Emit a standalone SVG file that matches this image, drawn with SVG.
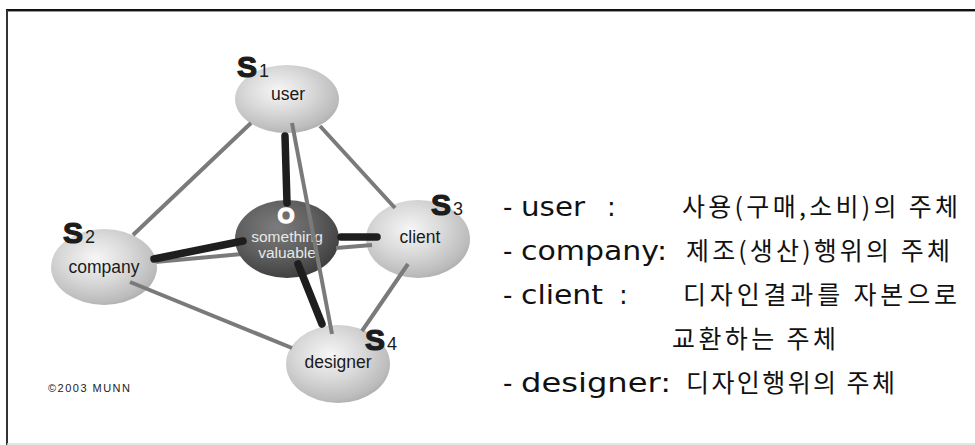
<svg xmlns="http://www.w3.org/2000/svg" width="975" height="445" viewBox="0 0 975 445">
  <style>
    .lbl { font-family: "Liberation Sans", Arial, sans-serif; font-size: 17.5px; fill: #1a1a1a; text-anchor: middle; }
    .sid { font-family: "Liberation Sans", Arial, sans-serif; font-weight: bold; font-size: 30px; fill: #1c1c1c; stroke: #1c1c1c; stroke-width: 1.2; }
    .sub { font-family: "Liberation Sans", Arial, sans-serif; font-size: 18px; fill: #1c1c1c; }
    .core { font-family: "Liberation Sans", Arial, sans-serif; font-size: 15.5px; fill: #e8e8e8; text-anchor: middle; }
    .thin { stroke: #7a7a7a; stroke-width: 4; fill: none; }
    .thick { stroke: #1e1e1e; stroke-width: 7.5; stroke-linecap: round; fill: none; }
    .lat { font-family: "DejaVu Sans", sans-serif; font-size: 26px; fill: #111; }
    .kor { font-family: "Noto Sans CJK KR", sans-serif; font-size: 25px; fill: #111; }
  </style>
  <defs>
    <radialGradient id="ball" cx="0.42" cy="0.38" r="0.68">
      <stop offset="0" stop-color="#f6f6f6"/>
      <stop offset="0.45" stop-color="#dadada"/>
      <stop offset="0.85" stop-color="#bcbcbc"/>
      <stop offset="1" stop-color="#a9a9a9"/>
    </radialGradient>
    <radialGradient id="core" cx="0.4" cy="0.35" r="0.7">
      <stop offset="0" stop-color="#7c7c7c"/>
      <stop offset="0.55" stop-color="#5e5e5e"/>
      <stop offset="1" stop-color="#3c3c3c"/>
    </radialGradient>
  </defs>

  <rect width="975" height="445" fill="#fff"/>
  <!-- slide frame -->
  <line x1="6" y1="10" x2="975" y2="10" stroke="#111" stroke-width="2"/>
  <line x1="6" y1="11.5" x2="975" y2="11.5" stroke="#999" stroke-width="1"/>
  <line x1="7" y1="10" x2="7" y2="445" stroke="#333" stroke-width="2"/>
  <line x1="7" y1="444" x2="975" y2="444" stroke="#ddd" stroke-width="1.5"/>

  <!-- company–client link passes behind the core sphere -->
  <g id="link-back">
    <line class="thin" x1="155" y1="262" x2="242" y2="254"/>
  </g>

  <g id="node-user">
    <ellipse cx="287" cy="99" rx="52" ry="34" fill="url(#ball)"/>
    <text class="sid" x="237" y="77">S</text>
    <text class="sub" x="259" y="77">1</text>
    <text class="lbl" x="288" y="100">user</text>
  </g>

  <g id="node-company">
    <ellipse cx="104" cy="267" rx="53" ry="38" fill="url(#ball)"/>
    <text class="sid" x="63" y="243">S</text>
    <text class="sub" x="85" y="243">2</text>
    <text class="lbl" x="104" y="273">company</text>
  </g>

  <g id="node-client">
    <ellipse cx="418" cy="239" rx="52" ry="39" fill="url(#ball)"/>
    <text class="sid" x="431" y="215">S</text>
    <text class="sub" x="453" y="215">3</text>
    <text class="lbl" x="420" y="243">client</text>
  </g>

  <g id="node-designer">
    <ellipse cx="338" cy="364" rx="52" ry="39" fill="url(#ball)"/>
    <text class="sid" x="365" y="350">S</text>
    <text class="sub" x="387" y="350">4</text>
    <text class="lbl" x="338" y="368">designer</text>
  </g>

  <g id="node-object">
    <ellipse cx="287" cy="239" rx="52" ry="39" fill="url(#core)"/>
    <text x="286" y="223" font-family="Liberation Sans, Arial, sans-serif" font-weight="bold" font-size="22" fill="#fff" stroke="#fff" stroke-width="1.3" text-anchor="middle">O</text>
    <text class="core" x="287" y="242">something</text>
    <text class="core" x="287" y="258">valuable</text>
  </g>

  <g id="connectors">
    <line class="thin" x1="336" y1="248" x2="372" y2="245"/>
    <line class="thin" x1="251" y1="123" x2="133" y2="235"/>
    <line class="thin" x1="320" y1="126" x2="395" y2="208"/>
    <line class="thin" x1="292" y1="123" x2="332" y2="334" stroke="#888"/>
    <line class="thin" x1="130" y1="282" x2="292" y2="348"/>
    <line class="thin" x1="408" y1="264" x2="362" y2="331"/>
    <line class="thick" x1="285" y1="136" x2="287" y2="203"/>
    <line class="thick" x1="154" y1="259" x2="243" y2="241"/>
    <line class="thick" x1="341" y1="237" x2="377" y2="237"/>
    <line class="thick" x1="298" y1="264" x2="322" y2="324"/>
  </g>

  <text id="credit" x="48" y="392" font-family="Liberation Sans, Arial, sans-serif" font-size="11" fill="#222" textLength="82">©2003 MUNN</text>

  <!-- role descriptions -->
  <g id="legend">
    <text class="lat" y="216"><tspan x="503">-</tspan><tspan x="521" textLength="64" lengthAdjust="spacingAndGlyphs">user</tspan><tspan x="607">:</tspan></text>
    <text class="kor" x="682" y="216" textLength="276">사용(구매,소비)의 주체</text>

    <text class="lat" y="260"><tspan x="503">-</tspan><tspan x="521" textLength="146" lengthAdjust="spacingAndGlyphs">company:</tspan></text>
    <text class="kor" x="686" y="260" textLength="264">제조(생산)행위의 주체</text>

    <text class="lat" y="304"><tspan x="503">-</tspan><tspan x="521" textLength="82" lengthAdjust="spacingAndGlyphs">client</tspan><tspan x="619">:</tspan></text>
    <text class="kor" x="683" y="304" textLength="274">디자인결과를 자본으로</text>

    <text class="kor" x="672" y="348" textLength="164">교환하는 주체</text>

    <text class="lat" y="392"><tspan x="503">-</tspan><tspan x="521" textLength="150" lengthAdjust="spacingAndGlyphs">designer:</tspan></text>
    <text class="kor" x="686" y="392" textLength="209">디자인행위의 주체</text>
  </g>
</svg>
